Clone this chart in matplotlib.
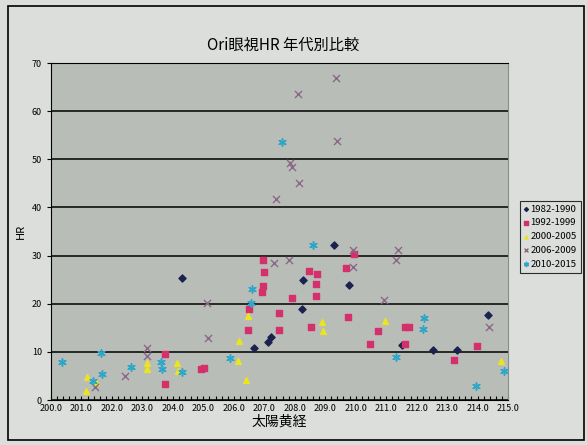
import matplotlib
matplotlib.use('Agg')
from matplotlib import pyplot
from matplotlib.ticker import MultipleLocator, FormatStrFormatter
from matplotlib.patches import Rectangle

pyplot.rcParams['font.family'] = ['Noto Sans CJK JP', 'DejaVu Sans']

# 1982-1990
x_8290 = [204.29, 206.66, 207.13, 207.22, 208.25, 208.28, 209.30, 209.78, 211.51, 212.55, 213.33, 214.35]
y_8290 = [25.3, 10.8, 12.0, 13.1, 19.0, 24.9, 32.1, 23.8, 11.5, 10.3, 10.3, 17.6]
# 1992-1999
x_9299 = [203.74, 203.74, 204.92, 205.02, 206.45, 206.51, 206.91, 206.95, 206.95, 206.99, 207.47, 207.49,
          207.90, 208.46, 208.52, 208.69, 208.70, 208.74, 209.68, 209.75, 209.95, 210.47, 210.72, 211.62,
          211.62, 211.74, 213.22, 213.97]
y_9299 = [9.6, 3.3, 6.4, 6.6, 14.6, 19.0, 22.4, 23.7, 29.0, 26.6, 14.5, 18.0,
          21.2, 26.9, 15.2, 24.2, 21.7, 26.2, 27.4, 17.3, 30.3, 11.7, 14.4, 11.6,
          15.2, 15.2, 8.3, 11.3]
# 2000-2005
x_0005 = [201.14, 201.19, 201.48, 203.14, 203.16, 204.12, 204.16, 206.13, 206.18, 206.40, 206.45,
          208.90, 208.94, 210.96, 214.77]
y_0005 = [1.8, 4.7, 3.7, 6.5, 7.6, 7.7, 6.1, 8.2, 12.2, 4.2, 17.4, 16.2, 14.4, 16.5, 8.1]
# 2006-2009
x_0609 = [201.44, 202.43, 203.14, 203.14, 205.11, 205.16, 207.33, 207.38, 207.82, 207.84, 207.90,
          208.12, 208.14, 209.35, 209.40, 209.90, 209.92, 210.93, 211.32, 211.38, 214.38]
y_0609 = [2.7, 4.9, 10.8, 9.1, 20.1, 12.9, 28.4, 41.7, 29.0, 49.2, 48.3,
          63.6, 45.1, 66.9, 53.9, 27.6, 31.2, 20.7, 29.1, 31.2, 15.1]
# 2010-2015
x_1015 = [200.37, 201.37, 201.63, 201.68, 202.63, 203.62, 203.64, 204.31, 205.88, 206.56, 206.61,
          207.59, 208.59, 211.31, 212.22, 212.25, 213.94, 214.88]
y_1015 = [7.8, 3.9, 9.8, 5.3, 6.8, 7.8, 6.4, 5.9, 8.7, 20.2, 23.1,
          53.5, 32.1, 9.0, 14.8, 17.1, 3.0, 6.1]

labels = ['1982-1990', '1992-1999', '2000-2005', '2006-2009', '2010-2015']

fig = pyplot.figure(figsize=(5.87, 4.45), dpi=100, facecolor='#dcdedb')
ax = fig.add_axes([0.0869, 0.1011, 0.7785, 0.7573])
ax.set_facecolor('#b9bdb8')

ax.scatter(x_8290, y_8290, marker='D', s=13, color='#1c2250', label=labels[0], zorder=3)
ax.scatter(x_9299, y_9299, marker='s', s=17, color='#d4306c', label=labels[1], zorder=3)
ax.scatter(x_0005, y_0005, marker='^', s=17, color='#ece41c', label=labels[2], zorder=3)
ax.scatter(x_0609, y_0609, marker='x', s=26, color='#8a6888', linewidths=1.0, label=labels[3], zorder=3)
ax.scatter(x_1015, y_1015, marker=(6, 2, 0), s=28, color='#2ea6c8', linewidths=1.1, label=labels[4], zorder=3)

ax.set_xlim(200, 215)
ax.set_ylim(0, 70)
ax.xaxis.set_major_locator(MultipleLocator(1))
ax.xaxis.set_minor_locator(MultipleLocator(0.2))
ax.xaxis.set_major_formatter(FormatStrFormatter('%.1f'))
ax.yaxis.set_major_locator(MultipleLocator(10))
ax.tick_params(axis='x', which='both', direction='in', length=3, width=0.8, labelsize=6.5, pad=3)
ax.tick_params(axis='y', which='major', direction='out', length=3, width=0.8, labelsize=6.5)
ax.grid(axis='y', color='black', linewidth=1.1)
ax.set_axisbelow(True)
for side in ['left', 'bottom', 'top']:
    ax.spines[side].set_color('black')
ax.spines['right'].set_color('#8a8e8a')

ax.set_xlabel('太陽黄経', fontsize=10, labelpad=1)
ax.set_ylabel('HR', fontsize=8, labelpad=4)
fig.text(0.483, 0.899, 'Ori眼視HR 年代別比較', ha='center', va='center', fontsize=11)

leg = fig.legend(loc='upper left', bbox_to_anchor=(0.886, 0.549), fontsize=6.9,
                 frameon=True, fancybox=False, edgecolor='black', facecolor='#dcdedb',
                 handlelength=0.5, handletextpad=0.2, borderpad=0.4, labelspacing=0.5,
                 markerscale=0.55, borderaxespad=0)
leg.get_frame().set_linewidth(0.8)

fig.patches.append(Rectangle((0.013, 0.011), 0.982, 0.975, transform=fig.transFigure,
                             fill=False, edgecolor='black', linewidth=1.2))

pyplot.savefig('out.png', dpi=100, facecolor=fig.get_facecolor())
pyplot.close()
